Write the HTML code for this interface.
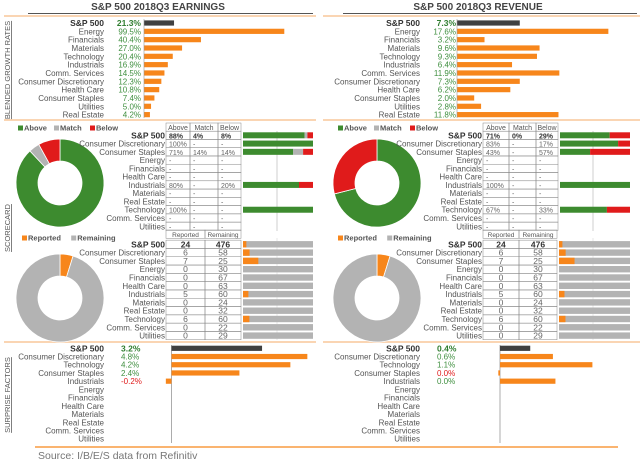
<!DOCTYPE html>
<html><head><meta charset="utf-8"><style>
html,body{margin:0;padding:0;background:#fff;}
svg{display:block;font-family:"Liberation Sans",sans-serif;}
</style></head><body>
<svg id="chart" width="640" height="464" viewBox="0 0 640 464"></svg>
<script>
// ---------- DATA ----------
const growthSectors = ["S&P 500","Energy","Financials","Materials","Technology","Industrials","Comm. Services","Consumer Discretionary","Health Care","Consumer Staples","Utilities","Real Estate"];
const earnGrowth = [21.3,99.5,40.4,27.0,20.4,16.9,14.5,12.3,10.8,7.4,5.0,4.2];
const revGrowth = [7.3,17.6,3.2,9.6,9.3,6.4,11.9,7.3,6.2,2.0,2.8,11.8];

const scoreSectors = ["S&P 500","Consumer Discretionary","Consumer Staples","Energy","Financials","Health Care","Industrials","Materials","Real Estate","Technology","Comm. Services","Utilities"];
const earnAbove = [88,100,71,null,null,null,80,null,null,100,null,null];
const earnMatch = [4,null,14,null,null,null,null,null,null,null,null,null];
const earnBelow = [8,null,14,null,null,null,20,null,null,null,null,null];
const revAbove = [71,83,43,null,null,null,100,null,null,67,null,null];
const revMatch = [0,null,null,null,null,null,null,null,null,null,null,null];
const revBelow = [29,17,57,null,null,null,null,null,null,33,null,null];

const earnReported = [24,6,7,0,0,0,5,0,0,6,0,0];
const earnRemaining = [476,58,25,30,67,63,60,24,32,60,22,29];
const revReported = [24,6,7,0,0,0,5,0,0,6,0,0];
const revRemaining = [476,58,25,30,67,63,60,24,32,60,22,29];

const surpSectors = ["S&P 500","Consumer Discretionary","Technology","Consumer Staples","Industrials","Energy","Financials","Health Care","Materials","Real Estate","Comm. Services","Utilities"];
const earnSurprise = [3.2,4.8,4.2,2.4,-0.2,null,null,null,null,null,null,null];
const earnSurpriseLabels = ["3.2%","4.8%","4.2%","2.4%","-0.2%","","","","","","",""];
const revSurprise = [0.36,0.63,1.1,-0.02,0.66,null,null,null,null,null,null,null];
const revSurpriseLabels = ["0.4%","0.6%","1.1%","0.0%","0.0%","","","","","","",""];

// ---------- HELPERS ----------
const NS="http://www.w3.org/2000/svg";
const svg=document.getElementById('chart');
const ORANGE="#f7861b",DARK="#404040",GREEN="#3d8b2f",RED="#e01b1b",GREY="#b3b3b3",TXT="#555",VAL="#3f8f3f";
function mk(tag,attrs,text){const e=document.createElementNS(NS,tag);for(const k in attrs)e.setAttribute(k,attrs[k]);if(text!==undefined)e.textContent=text;svg.appendChild(e);return e;}
function label(x,y,t,bold,anchor,fill,size){return mk('text',{x:x,y:y+3,'font-size':size||(bold?8.5:8),'font-weight':bold?'bold':'normal','text-anchor':anchor||'end',fill:fill||(bold?'#333':TXT)},t);}

// ---------- FRAME ----------
let el;
el=mk('text',{x:158,y:10,'font-size':10,'font-weight':'bold','text-anchor':'middle',fill:'#444'},'S&P 500 2018Q3 EARNINGS');


el=mk('text',{x:478,y:10,'font-size':10,'font-weight':'bold','text-anchor':'middle',fill:'#444'},'S&P 500 2018Q3 REVENUE');


mk('line',{x1:28,y1:13.5,x2:313,y2:13.5,stroke:'#555','stroke-width':1});
mk('line',{x1:343,y1:13.5,x2:637,y2:13.5,stroke:'#555','stroke-width':1});
[16,120,342].forEach(y=>{
  el=mk('line',{x1:4,y1:y,x2:316,y2:y,stroke:'#f9c79a','stroke-width':1.5});
  
  
  mk('line',{x1:323,y1:y,x2:640,y2:y,stroke:'#f9c79a','stroke-width':1.5});
});
el=mk('line',{x1:35,y1:447,x2:320,y2:447,stroke:ORANGE,'stroke-width':1.2});


mk('line',{x1:320,y1:447,x2:618,y2:447,stroke:ORANGE,'stroke-width':1.2});

function vlabel(cy,t,name){
  const e=mk('text',{x:0,y:0,'font-size':7.5,'text-anchor':'middle',fill:'#555','text-decoration':'underline',transform:'translate(10,'+cy+') rotate(-90)'},t);
  
  
}
vlabel(70,'BLENDED GROWTH RATES','growth-section-label');
vlabel(228,'SCORECARD','scorecard-section-label');
vlabel(395,'SURPRISE FACTORS','surprise-section-label');

el=mk('text',{x:38,y:459,'font-size':10.5,fill:'#777'},'Source: I/B/E/S data from Refinitiv');



// ---------- GROWTH BARS ----------
function growth(vals,cfg){
  vals.forEach((v,i)=>{
    const y=23+i*8.33, sp=i===0;
    const l=label(cfg.labelX,y,growthSectors[i],sp);
    
    
    const t=label(cfg.valX,y,v.toFixed(1)+'%',sp,'end',sp?'#2f7d2f':VAL);
    
    
    const b=mk('rect',{x:cfg.barX,y:y-2.6,width:v*cfg.scale,height:5.2,fill:sp?DARK:ORANGE});
    
    
  });
  mk('line',{x1:cfg.barX,y1:19,x2:cfg.barX,y2:118,stroke:'#999','stroke-width':0.6});
}
growth(earnGrowth,{labelX:104,valX:141,barX:144,scale:1.41});
growth(revGrowth,{labelX:420,valX:456,barX:457,scale:8.6});

// ---------- DONUT ----------
function donut(cx,cy,values,colors,name){
  const tot=values.reduce((a,b)=>a+b,0);let a0=-Math.PI/2;const R=44,r=22;
  values.forEach((v,i)=>{
    if(!v)return;const a1=a0+v/tot*2*Math.PI;
    const big=(a1-a0)>Math.PI?1:0;
    const p=(a,rr)=>[cx+rr*Math.cos(a),cy+rr*Math.sin(a)];
    let d;
    if(v===tot){d=`M${cx-R},${cy}A${R},${R} 0 1 1 ${cx+R},${cy}A${R},${R} 0 1 1 ${cx-R},${cy}M${cx-r},${cy}A${r},${r} 0 1 0 ${cx+r},${cy}A${r},${r} 0 1 0 ${cx-r},${cy}Z`;}
    else{const [x0,y0]=p(a0,R),[x1,y1]=p(a1,R),[x2,y2]=p(a1,r),[x3,y3]=p(a0,r);
    d=`M${x0},${y0}A${R},${R} 0 ${big} 1 ${x1},${y1}L${x2},${y2}A${r},${r} 0 ${big} 0 ${x3},${y3}Z`;}
    const s=mk('path',{d:d,fill:colors[i],stroke:'#fff','stroke-width':0.8,'fill-rule':'evenodd'});
    
    
    a0=a1;
  });
}
function legend(x,y,items){
  let cx=x;
  items.forEach(([c,t])=>{
    const sq=mk('rect',{x:cx,y:y-2.5,width:5,height:5,fill:c});
    
    
    const tx=mk('text',{x:cx+6,y:y+2.5,'font-size':7.5,'font-weight':'bold',fill:'#555'},t);
    
    
    cx+=8+t.length*4.4+6;
  });
}

// ---------- SCORECARD ----------
function scorecard(ab,ma,be,cfg){
  const fmt=v=>v===null?'-':v+'%';
  legend(cfg.legX,128,[[GREEN,'Above'],[GREY,'Match'],[RED,'Below']]);
  donut(cfg.dx,183,[ab[0],ma[0],be[0]],[GREEN,GREY,RED],'scorecard-donut-slice');
  const cols=cfg.cols;const h=8.27;
  // header
  ['Above','Match','Below'].forEach((t,j)=>{
    mk('rect',{x:cols[j],y:123,width:cols[j+1]-cols[j],height:h,fill:'none',stroke:'#888','stroke-width':0.5});
    const e=label((cols[j]+cols[j+1])/2,127,t,false,'middle','#555',7);
    
    
  });
  mk('line',{x1:cfg.gx,y1:131,x2:cfg.gx,y2:231,stroke:'#bbb','stroke-width':0.7});
  scoreSectors.forEach((s,i)=>{
    const y=135.3+i*h, sp=i===0;
    const l=label(cols[0]-1,y,s,sp);
    
    
    [ab[i],ma[i],be[i]].forEach((v,j)=>{
      mk('rect',{x:cols[j],y:y-h/2,width:cols[j+1]-cols[j],height:h,fill:'none',stroke:'#888','stroke-width':0.5});
      const t=label(cols[j]+3,y,fmt(v),sp,'start',sp?'#333':'#666',7);
      
      
    });
    if(ab[i]!==null){
      const tot=(ab[i]||0)+(ma[i]||0)+(be[i]||0);let x=cfg.bx;
      [[ab[i],GREEN],[ma[i],GREY],[be[i],RED]].forEach(([v,c])=>{
        if(!v)return;const w=v/tot*cfg.bw;
        const b=mk('rect',{x:x,y:y-3,width:w,height:6,fill:c});
        
        
        x+=w;
      });
    }
  });
}
scorecard(earnAbove,earnMatch,earnBelow,{legX:18,dx:60,cols:[166,190,218,241],bx:243,bw:70,gx:277});
scorecard(revAbove,revMatch,revBelow,{legX:338,dx:377,cols:[483,509,536,558],bx:560,bw:70,gx:593});

// ---------- REPORTED ----------
function reported(rep,rem,cfg){
  legend(cfg.legX,238,[[ORANGE,'Reported'],[GREY,'Remaining']]);
  donut(cfg.dx,298,[rep[0],rem[0]],[ORANGE,GREY],'reported-donut-slice');
  const cols=cfg.cols,h=8.3;
  ['Reported','Remaining'].forEach((t,j)=>{
    mk('rect',{x:cols[j],y:230,width:cols[j+1]-cols[j],height:h,fill:'none',stroke:'#888','stroke-width':0.5});
    const e=label((cols[j]+cols[j+1])/2,234,t,false,'middle','#555',6.5);
    
    
  });
  mk('line',{x1:cfg.gx,y1:238,x2:cfg.gx,y2:340,stroke:'#ddd','stroke-width':0.7});
  scoreSectors.forEach((s,i)=>{
    const y=244.3+i*h, sp=i===0;
    const l=label(cols[0]-1,y,s,sp);
    
    
    [rep[i],rem[i]].forEach((v,j)=>{
      mk('rect',{x:cols[j],y:y-h/2,width:cols[j+1]-cols[j],height:h,fill:'none',stroke:'#888','stroke-width':0.5});
      const t=label((cols[j]+cols[j+1])/2,y,String(v),sp,'middle',sp?'#333':'#666',8.5);
      
      
    });
    const tot=rep[i]+rem[i],w=rep[i]/tot*cfg.bw;
    const g=mk('rect',{x:cfg.bx,y:y-3.2,width:cfg.bw,height:6.4,fill:GREY});
    
    
    if(w>0){const o=mk('rect',{x:cfg.bx,y:y-3.2,width:w,height:6.4,fill:ORANGE});
    
    }
  });
}
reported(earnReported,earnRemaining,{legX:22,dx:60,cols:[166,205,241],bx:243,bw:70,gx:277});
reported(revReported,revRemaining,{legX:338,dx:377,cols:[483,519,557],bx:559,bw:71,gx:593});

// ---------- SURPRISE ----------
function surprise(vals,labs,cfg){
  mk('line',{x1:cfg.ax,y1:345,x2:cfg.ax,y2:443,stroke:'#888','stroke-width':0.7});
  surpSectors.forEach((s,i)=>{
    const y=348.3+i*8.22, sp=i===0;
    const l=label(cfg.labelX,y,s,sp);
    
    
    if(labs[i]){
      const neg=labs[i].startsWith('-')||(vals[i]<0);
      const t=label(cfg.valX,y,labs[i],sp,'start',neg?RED:(sp?'#2f7d2f':VAL));
      
      
    }
    const v=vals[i];
    if(v!==null){
      const w=Math.max(Math.abs(v*cfg.scale),1.5);
      const b=mk('rect',{x:v<0?cfg.ax-w:cfg.ax,y:y-2.6,width:w,height:5.2,fill:sp?DARK:ORANGE});
      
      
    }
  });
}
surprise(earnSurprise,earnSurpriseLabels,{labelX:104,valX:121,ax:171.5,scale:28.3});
surprise(revSurprise,revSurpriseLabels,{labelX:420,valX:437,ax:500,scale:84});
</script>
</body></html>
